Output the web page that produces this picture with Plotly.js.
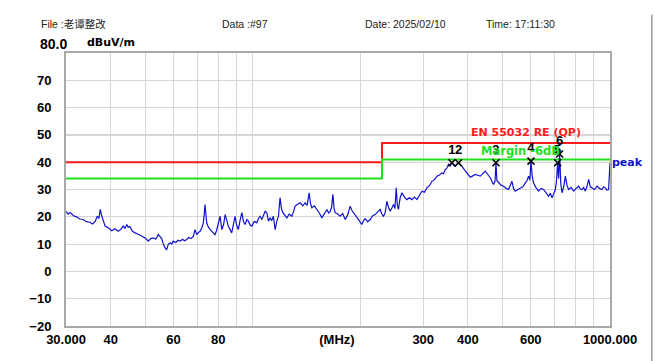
<!DOCTYPE html>
<html>
<head>
<meta charset="utf-8">
<script src="https://cdn.plot.ly/plotly-3.0.1.min.js"></script>
<style>
  html, body { margin: 0; padding: 0; background: #ffffff; }
  #chart { width: 655px; height: 361px; }
</style>
</head>
<body>
<div id="chart"></div>
<script>
// ---- Data ----
const freqMHz = [
  30.0, 30.4, 30.8, 31.5, 32.2, 32.8, 33.5, 34.2, 35.0, 35.6,
  36.2, 36.7, 37.1, 37.4, 37.8, 38.2, 38.6, 39.4, 40.3, 41.1,
  42.0, 42.7, 43.4, 43.9, 44.4, 44.8, 45.3, 46.0, 46.8, 47.8,
  48.9, 50.0, 51.0, 51.8, 52.7, 53.5, 54.4, 55.0, 55.6, 56.2,
  56.8, 57.4, 58.0, 58.7, 59.3, 59.9, 60.9, 61.8, 62.6, 63.6,
  64.4, 65.3, 66.2, 67.2, 68.2, 68.9, 69.7, 70.4, 71.2, 72.0,
  72.7, 73.1, 73.5, 74.3, 75.1, 76.0, 77.2, 78.4, 79.2, 80.1,
  81.0, 81.9, 82.8, 83.7, 84.6, 85.5, 86.4, 87.3, 88.2, 89.2,
  90.1, 91.1, 92.1, 93.2, 94.2, 95.2, 96.2, 97.2, 98.3, 99.4,
  101.0, 102.6, 103.7, 104.8, 106.0, 107.2, 108.3, 109.5, 110.6, 111.8,
  113.0, 114.2, 115.5, 116.8, 118.0, 119.2, 120.3, 121.4, 123.0, 124.5,
  126.5, 128.6, 130.0, 131.4, 133.5, 135.7, 138.0, 140.2, 142.0, 143.8,
  145.0, 146.3, 148.7, 151.1, 153.6, 156.1, 158.6, 161.2, 163.0, 164.7,
  166.2, 167.6, 168.9, 170.1, 172.8, 175.6, 178.5, 181.4, 184.3, 187.3,
  189.3, 191.4, 194.5, 197.7, 199.8, 202.0, 204.2, 206.3, 209.7, 213.1,
  216.6, 220.1, 223.7, 227.3, 229.7, 232.2, 234.7, 237.3, 239.9, 242.5,
  245.1, 247.7, 250.0, 252.1, 254.0, 255.8, 257.2, 258.6, 261.5, 265.7,
  270.0, 274.4, 278.9, 283.5, 288.1, 292.8, 297.5, 302.3, 307.2, 312.3,
  317.4, 322.6, 327.8, 333.1, 338.5, 342.0, 345.6, 349.3, 353.1, 357.0,
  360.9, 364.8, 368.8, 372.7, 376.7, 381.0, 385.2, 391.5, 397.8, 402.0,
  406.3, 413.0, 419.6, 426.4, 433.3, 440.4, 447.5, 454.8, 462.2, 467.1,
  472.1, 476.5, 479.5, 482.5, 487.6, 495.5, 503.6, 511.8, 520.1, 525.8,
  531.6, 537.3, 543.1, 552.0, 561.0, 570.1, 579.4, 585.5, 591.7, 596.5,
  600.9, 605.5, 611.1, 621.0, 631.2, 641.5, 651.9, 662.5, 673.3, 680.7,
  688.2, 695.5, 703.0, 708.2, 713.5, 718.0, 722.7, 728.3, 734.0, 742.0,
  750.0, 757.9, 765.9, 778.3, 790.9, 803.8, 816.9, 825.9, 834.9, 843.9,
  852.9, 862.0, 871.3, 880.9, 890.6, 905.2, 920.0, 935.0, 950.2, 960.2,
  970.3, 980.5, 990.9, 1000.0];
const peakLevel = [
  22.0, 21.0, 21.6, 20.4, 19.9, 19.2, 19.0, 18.2, 18.0, 17.4,
  18.3, 20.2, 19.4, 22.7, 20.2, 18.0, 16.6, 16.0, 14.9, 15.6,
  14.7, 15.4, 16.6, 15.8, 17.2, 16.2, 16.4, 14.8, 14.1, 13.6,
  12.9, 12.2, 11.1, 12.0, 12.3, 11.8, 13.5, 12.6, 12.0, 9.9,
  8.6, 8.0, 9.9, 10.5, 10.0, 11.1, 10.6, 11.4, 11.1, 11.8,
  11.2, 11.7, 12.4, 12.0, 12.9, 15.3, 13.5, 14.2, 14.7, 16.0,
  17.8, 20.5, 24.5, 17.8, 16.2, 15.3, 14.4, 13.5, 15.0, 17.2,
  20.2, 15.3, 17.0, 20.8, 18.4, 16.4, 15.3, 14.1, 17.0, 20.2,
  17.0, 15.3, 18.6, 21.5, 18.2, 17.2, 19.0, 18.4, 17.0, 16.6,
  18.3, 17.8, 19.4, 20.2, 19.0, 20.6, 22.0, 21.5, 18.4, 19.6,
  18.6, 20.2, 15.3, 18.4, 20.2, 27.0, 23.0, 21.5, 20.4, 19.6,
  21.0, 20.2, 21.8, 23.9, 24.6, 25.1, 24.0, 25.1, 24.2, 28.8,
  25.0, 23.3, 24.0, 22.7, 21.4, 19.6, 21.0, 22.7, 21.4, 22.0,
  23.5, 28.2, 23.0, 21.5, 21.0, 20.2, 21.2, 19.0, 20.6, 23.9,
  22.4, 21.5, 20.0, 19.0, 17.8, 17.2, 18.6, 19.3, 18.2, 19.0,
  20.4, 20.8, 21.8, 22.7, 21.0, 20.2, 21.5, 25.7, 23.5, 22.0,
  23.2, 24.5, 23.0, 30.6, 24.0, 22.7, 25.0, 27.0, 28.8, 27.2,
  26.3, 27.0, 26.3, 27.2, 26.3, 27.8, 29.4, 29.0, 30.6, 31.4,
  33.0, 33.6, 34.9, 35.3, 36.1, 35.8, 37.3, 37.8, 39.2, 38.6,
  39.8, 39.0, 38.5, 39.3, 39.8, 39.0, 38.5, 37.2, 36.1, 35.0,
  34.5, 35.0, 35.5, 35.2, 34.9, 35.8, 36.7, 35.5, 34.3, 33.0,
  31.8, 33.0, 39.8, 33.2, 32.4, 31.6, 31.2, 30.4, 30.0, 31.2,
  33.0, 30.2, 29.4, 30.0, 30.6, 31.0, 32.4, 33.2, 34.9, 33.5,
  40.4, 35.0, 32.4, 30.6, 29.4, 30.4, 30.0, 28.5, 27.5, 28.6,
  27.0, 28.4, 30.0, 33.0, 39.8, 34.0, 43.0, 32.0, 28.8, 31.0,
  34.9, 31.5, 30.0, 30.8, 29.4, 30.4, 31.2, 30.2, 30.0, 30.8,
  29.4, 31.0, 33.7, 31.0, 30.6, 30.0, 31.2, 30.4, 30.0, 31.0,
  30.6, 29.8, 30.0, 39.8];

const limitFreq = [30, 230, 230, 1000];
const limitLevel = [40, 40, 47, 47];
const marginLevel = [34, 34, 41, 41];

const markerFreq = [360.9, 376.7, 479.5, 600.9, 713.5, 722.7];
const markerLevel = [39.8, 39.8, 39.8, 40.4, 39.8, 43.0];
const markerLabels = ['1', '2', '3', '4', '5', '6'];

const xTickVals = [30, 40, 60, 80, 172, 300, 400, 600, 1000];
const xTickText = ['30.000', '40', '60', '80', '(MHz)', '300', '400', '600', '1000.000'];
const xGridVals = [40, 50, 60, 70, 80, 90, 100, 200, 300, 400, 500, 600, 700, 800, 900];
const yTickVals = [-20, -10, 0, 10, 20, 30, 40, 50, 60, 70];

// ---- Chart ----
const FONT = 'Liberation Sans Narrow, Arial Narrow, Liberation Sans, Arial, sans-serif';
const traces = [
  { x: limitFreq, y: limitLevel, mode: 'lines', line: { color: '#ff1a1a', width: 2 }, hoverinfo: 'skip' },
  { x: limitFreq, y: marginLevel, mode: 'lines', line: { color: '#1ee01e', width: 2 }, hoverinfo: 'skip' },
  { x: freqMHz, y: peakLevel, mode: 'lines', line: { color: '#1010d0', width: 1.2 } },
  { x: markerFreq, y: markerLevel, mode: 'markers+text', text: markerLabels, textposition: 'top center',
    textfont: { family: FONT, size: 13, color: '#000000', weight: 'bold' },
    marker: { symbol: 'x-thin-open', size: 7, line: { color: '#000000', width: 1.6 }, color: '#000000' }, cliponaxis: false }
];

const layout = {
  width: 655, height: 361,
  margin: { l: 66, r: 45, t: 53, b: 35 },
  paper_bgcolor: '#ffffff', plot_bgcolor: '#ffffff',
  showlegend: false,
  font: { family: FONT, size: 12, color: '#000000' },
  xaxis: {
    type: 'log', range: [Math.log10(30), 3],
    tickmode: 'array', tickvals: xTickVals, ticktext: xTickText,
    showgrid: false, ticks: '', zeroline: false,
    tickfont: { family: FONT, size: 13, color: '#000000', weight: 'bold' },
    showline: true, mirror: true, linecolor: '#a8a8a8', linewidth: 2,
    minor: { tickmode: 'array', tickvals: xGridVals, showgrid: true, gridcolor: '#d6d6d6', gridwidth: 1.2, ticks: '' }
  },
  yaxis: {
    range: [-20, 80], tickmode: 'array', tickvals: yTickVals,
    showgrid: true, gridcolor: '#d6d6d6', gridwidth: 1.2, zeroline: false, ticks: '',
    ticklabelstandoff: 10,
    tickfont: { family: FONT, size: 13, color: '#000000', weight: 'bold' },
    showline: true, mirror: true, linecolor: '#a8a8a8', linewidth: 2
  },
  annotations: [
    { xref: 'paper', yref: 'paper', x: -0.05, y: 1.106, xanchor: 'left', yanchor: 'middle', showarrow: false,
      text: 'File :老谭整改', font: { family: 'Liberation Sans, Noto Sans CJK SC, sans-serif', size: 10.5, color: '#222' } },
    { xref: 'paper', yref: 'paper', x: 0.283, y: 1.106, xanchor: 'left', yanchor: 'middle', showarrow: false,
      text: 'Data :#97', font: { family: 'Liberation Sans, sans-serif', size: 10.5, color: '#222' } },
    { xref: 'paper', yref: 'paper', x: 0.546, y: 1.106, xanchor: 'left', yanchor: 'middle', showarrow: false,
      text: 'Date: 2025/02/10', font: { family: 'Liberation Sans, sans-serif', size: 10.5, color: '#222' } },
    { xref: 'paper', yref: 'paper', x: 0.768, y: 1.106, xanchor: 'left', yanchor: 'middle', showarrow: false,
      text: 'Time: 17:11:30', font: { family: 'Liberation Sans, sans-serif', size: 10.5, color: '#222' } },
    { xref: 'paper', yref: 'paper', x: -0.052, y: 1.033, xanchor: 'left', yanchor: 'middle', showarrow: false,
      text: '80.0', font: { family: FONT, size: 14, color: '#000', weight: 'bold' } },
    { xref: 'paper', yref: 'paper', x: 0.035, y: 1.04, xanchor: 'left', yanchor: 'middle', showarrow: false,
      text: 'dBuV/m', font: { family: 'DejaVu Sans, sans-serif', size: 11, color: '#000', weight: 'bold' } },
    { xref: 'x', yref: 'y', x: Math.log10(583), y: 51.0, xanchor: 'center', yanchor: 'middle', showarrow: false,
      text: 'EN 55032 RE (QP)', font: { family: 'DejaVu Sans, sans-serif', size: 11, color: '#ff1a1a', weight: 'bold' } },
    { xref: 'x', yref: 'y', x: Math.log10(560), y: 44.0, xanchor: 'center', yanchor: 'middle', showarrow: false,
      text: 'Margin -6dB', font: { family: 'DejaVu Sans, sans-serif', size: 11.5, color: '#1ee01e', weight: 'bold' } },
    { xref: 'paper', yref: 'y', x: 1.0, y: 39.8, xanchor: 'left', yanchor: 'middle', showarrow: false,
      text: 'peak', font: { family: 'DejaVu Sans, sans-serif', size: 11, color: '#1010d0', weight: 'bold' } }
  ],
  shapes: [
    { type: 'line', xref: 'paper', yref: 'paper', x0: 1.077, x1: 1.077, y0: -0.13, y1: 1.14,
      line: { color: '#9a9a9a', width: 1.5 } }
  ]
};

Plotly.newPlot('chart', traces, layout, { displayModeBar: false, staticPlot: true });
</script>
</body>
</html>
